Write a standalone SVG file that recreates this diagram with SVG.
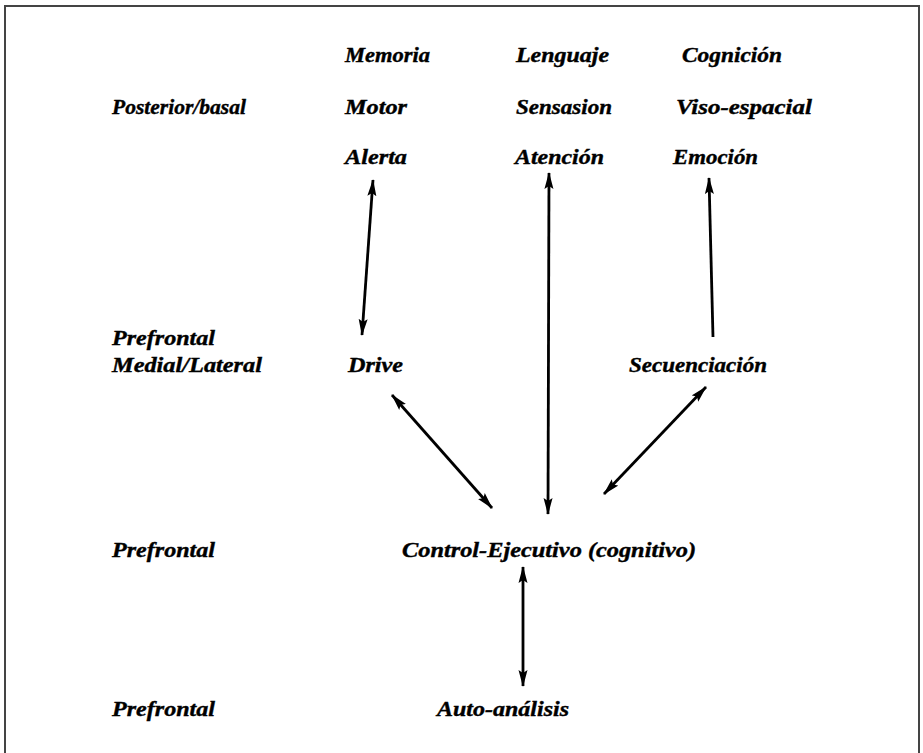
<svg xmlns="http://www.w3.org/2000/svg" width="923" height="753" viewBox="0 0 923 753">
<defs>
<style>
text{font-family:"Liberation Serif","Times New Roman",serif;font-weight:bold;font-style:italic;font-size:21px;fill:#000;stroke:#000;stroke-width:0.4}
.c{stroke:#000;stroke-width:2.8;fill:none}
</style>
<marker id="ah" viewBox="0 0 17 10" refX="16" refY="5" markerWidth="17" markerHeight="10" markerUnits="userSpaceOnUse" orient="auto-start-reverse"><path d="M0,0.5 L17,5 L0,9.5 L3,5 Z" fill="#000"/></marker>
</defs>
<rect width="923" height="753" fill="#fff"/>
<path d="M5,760 L5,6 L919,6 L919,760" stroke="#444" stroke-width="2" fill="none"/>
<g id="labels-left">
<text x="112" y="114" textLength="134" lengthAdjust="spacingAndGlyphs">Posterior/basal</text>
<text x="112" y="345" textLength="103" lengthAdjust="spacingAndGlyphs">Prefrontal</text>
<text x="112" y="372" textLength="150" lengthAdjust="spacingAndGlyphs">Medial/Lateral</text>
<text x="112" y="557" textLength="103" lengthAdjust="spacingAndGlyphs">Prefrontal</text>
<text x="112" y="716" textLength="103" lengthAdjust="spacingAndGlyphs">Prefrontal</text>
</g>
<g id="n-memoria"><text x="345" y="62" textLength="85" lengthAdjust="spacingAndGlyphs">Memoria</text></g>
<g id="n-lenguaje"><text x="516" y="62" textLength="93" lengthAdjust="spacingAndGlyphs">Lenguaje</text></g>
<g id="n-cognicion"><text x="682" y="62" textLength="100" lengthAdjust="spacingAndGlyphs">Cognición</text></g>
<g id="n-motor"><text x="345" y="114" textLength="62" lengthAdjust="spacingAndGlyphs">Motor</text></g>
<g id="n-sensasion"><text x="516" y="114" textLength="96" lengthAdjust="spacingAndGlyphs">Sensasion</text></g>
<g id="n-viso"><text x="676" y="114" textLength="136" lengthAdjust="spacingAndGlyphs">Viso-espacial</text></g>
<g id="n-alerta"><text x="345" y="164" textLength="62" lengthAdjust="spacingAndGlyphs">Alerta</text></g>
<g id="n-atencion"><text x="515" y="164" textLength="89" lengthAdjust="spacingAndGlyphs">Atención</text></g>
<g id="n-emocion"><text x="673" y="164" textLength="85" lengthAdjust="spacingAndGlyphs">Emoción</text></g>
<g id="n-drive"><text x="348" y="372" textLength="55" lengthAdjust="spacingAndGlyphs">Drive</text></g>
<g id="n-secuenciacion"><text x="629" y="372" textLength="138" lengthAdjust="spacingAndGlyphs">Secuenciación</text></g>
<g id="n-control"><text x="402" y="557" textLength="294" lengthAdjust="spacingAndGlyphs">Control-Ejecutivo (cognitivo)</text></g>
<g id="n-auto"><text x="437" y="716" textLength="132" lengthAdjust="spacingAndGlyphs">Auto-análisis</text></g>
<g id="connectors">
<line class="c" x1="373" y1="180" x2="362" y2="335" marker-start="url(#ah)" marker-end="url(#ah)"/>
<line class="c" x1="549" y1="173" x2="548" y2="514" marker-start="url(#ah)" marker-end="url(#ah)"/>
<line class="c" x1="713" y1="337" x2="709" y2="178" marker-end="url(#ah)"/>
<line class="c" x1="392" y1="395" x2="492" y2="508" marker-start="url(#ah)" marker-end="url(#ah)"/>
<line class="c" x1="706" y1="387" x2="604" y2="494" marker-start="url(#ah)" marker-end="url(#ah)"/>
<line class="c" x1="523" y1="567" x2="523" y2="686" marker-start="url(#ah)" marker-end="url(#ah)"/>
</g>
</svg>
